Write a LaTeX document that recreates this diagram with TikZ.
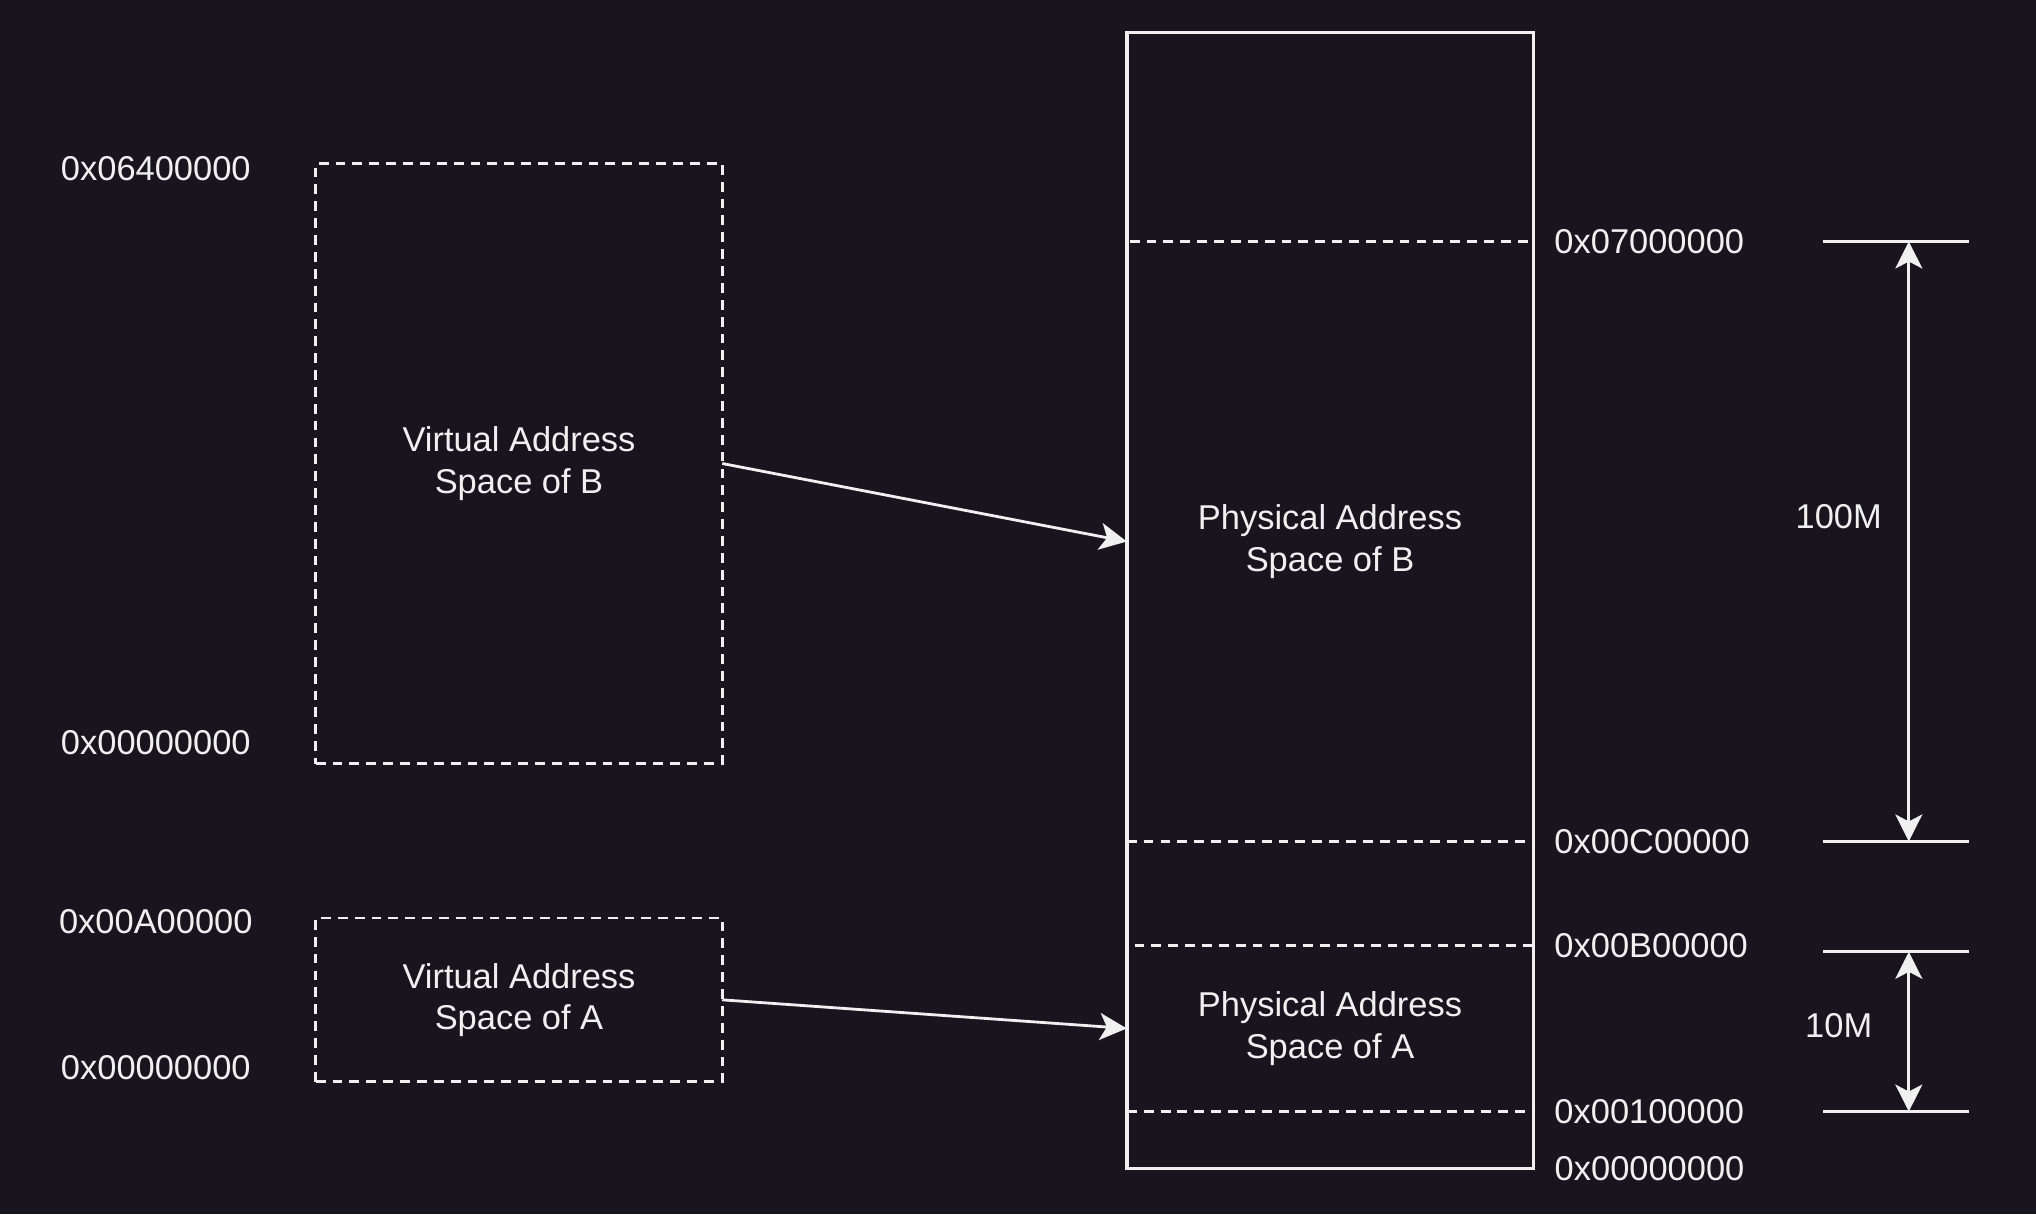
\documentclass[tikz,border=0pt]{standalone}
\usepackage{fontspec}
\setmainfont{Liberation Sans}
\usepackage{tikz}
\usetikzlibrary{arrows.meta,positioning}
\usepackage{xcolor}

\definecolor{bgdark}{RGB}{24,21,31}
\definecolor{fgline}{RGB}{240,240,240}

\begin{document}
\begin{tikzpicture}[
    every node/.style={text=fgline, font=\fontsize{9.8}{11.8}\selectfont},
    region/.style={draw=fgline, line width=0.8pt, dash pattern=on 2.8pt off 2pt,
                   minimum width=4.065cm, align=center, inner sep=0pt, outer sep=0pt},
    addr/.style={inner sep=1pt},
    link/.style={draw=fgline, line width=0.8pt,
                 -{Stealth[length=2.7mm, width=2.7mm, inset=0.7mm]}},
    dimline/.style={draw=fgline, line width=0.8pt,
                 {Stealth[length=2.7mm, width=2.7mm, inset=0.7mm]}-{Stealth[length=2.7mm, width=2.7mm, inset=0.7mm]}},
    tickline/.style={draw=fgline, line width=0.9pt}]

% Background (fixes the size too)
\fill[bgdark] (0,0) rectangle (20.36,-12.14);

% Physical memory (outer frame)
\draw[fgline, line width=0.9pt] (11.27,-0.325) rectangle (15.335,-11.686);
\coordinate (memSE) at (15.335,-11.686);

% Physical regions
\node[region, minimum height=6.0cm]   (pB) at (13.30,-5.415)  {Physical Address\\Space of B};
\node[region, minimum height=1.662cm] (pA) at (13.30,-10.284) {Physical Address\\Space of A};
\draw[fgline, line width=0.8pt, dash pattern=on 2.8pt off 2pt] (11.27,-11.115) -- (15.335,-11.115);

% Virtual regions
\node[region, minimum height=6.0cm]   (vB) at (5.19,-4.635) {Virtual Address\\Space of B};
\node[region, minimum height=1.636cm] (vA) at (5.19,-9.998) {Virtual Address\\Space of A};

% Mappings
\draw[link] (vB.east) -- (pB.west);
\draw[link] (vA.east) -- (pA.west);

% Virtual addresses
\node[addr] (vBtop) at (1.558,-1.688)  {0x06400000};
\node[addr] (vBbot) at (1.558,-7.427)  {0x00000000};
\node[addr] (vAtop) at (1.558,-9.22)   {0x00A00000};
\node[addr] (vAbot) at (1.558,-10.674) {0x00000000};

% Physical addresses
\node[addr, right=0.17cm of pB.north east] (a7) {0x07000000};
\node[addr, right=0.17cm of pB.south east] (aC) {0x00C00000};
\node[addr, right=0.17cm of pA.north east] (aB) {0x00B00000};
\node[addr, right=0.17cm of pA.south east] (a1) {0x00100000};
\node[addr, right=0.17cm of memSE]         (a0) {0x00000000};

% Size marks
\foreach \y in {-2.415,-8.414,-9.518,-11.115}{
  \draw[tickline] (18.23,\y) -- (19.685,\y);
}
\coordinate (d1) at (19.088,-2.415);
\coordinate (d2) at (19.088,-8.414);
\coordinate (d3) at (19.088,-9.518);
\coordinate (d4) at (19.088,-11.115);
\draw[dimline] (d1) -- (d2);
\draw[dimline] (d3) -- (d4);

\node (sB) at (18.387,-5.168)  {100M};
\node (sA) at (18.387,-10.258) {10M};

\end{tikzpicture}
\end{document}
